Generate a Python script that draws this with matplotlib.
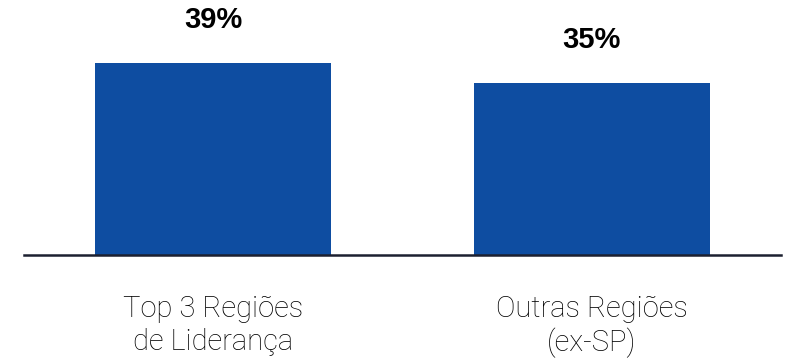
import matplotlib
matplotlib.use('Agg')
import matplotlib.pyplot as plt

categories = ['Top 3 Regiões\nde Liderança', 'Outras Regiões\n(ex-SP)']
values = [39, 35]
value_labels = ['39%', '35%']

bar_color = '#0E4DA1'

fig = plt.figure(figsize=(7.9, 3.63), dpi=100)
ax = fig.add_axes([0.0304, 0.2975, 0.9582, 0.7025])

x = range(len(categories))
bars = ax.bar(x, values, width=0.624, color=bar_color)

# percentage on top of each bar
for b, lbl in zip(bars, value_labels):
	ax.annotate(lbl, (b.get_x() + b.get_width() / 2, b.get_height()),
		xytext=(0, 21), textcoords='offset points', ha='center', va='bottom',
		fontsize=21, fontweight='bold', family=['Liberation Sans', 'DejaVu Sans'])

ax.set_xlim(-0.499, 1.499)
ax.set_ylim(0, 51.8)

ax.set_xticks(list(x))
ax.set_xticklabels(categories, fontsize=21, linespacing=1.2, fontweight='light',
	family=['Roboto', 'DejaVu Sans'], color='#000000')
ax.tick_params(axis='x', length=0, pad=29)
ax.set_yticks([])

for s in ['top', 'right', 'left']:
	ax.spines[s].set_visible(False)
ax.spines['bottom'].set_linewidth(1.8)
ax.spines['bottom'].set_color('#1c2030')

fig.savefig('out.png', dpi=100)
